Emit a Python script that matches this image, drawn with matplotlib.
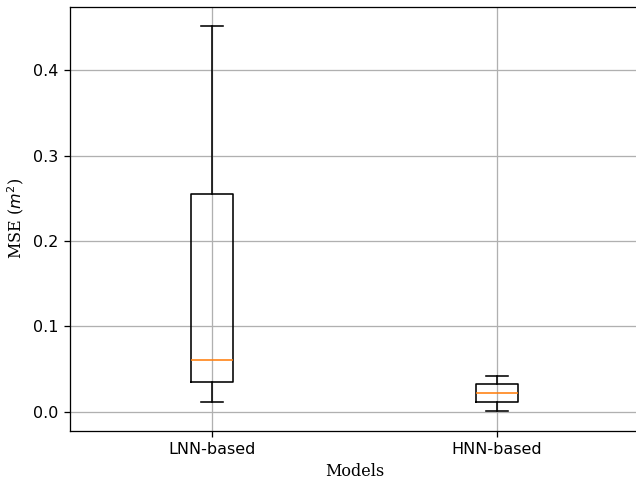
import matplotlib
matplotlib.use("Agg")
import matplotlib.pyplot as plt

labels = ["LNN-based", "HNN-based"]
whislo = [0.0112, 0.0007]
q1 = [0.0354, 0.0112]
med = [0.0603, 0.0222]
q3 = [0.2554, 0.0322]
whishi = [0.4513, 0.0420]

stats = []
for i in range(len(labels)):
    stats.append(dict(label=labels[i], whislo=whislo[i], q1=q1[i], med=med[i],
                      q3=q3[i], whishi=whishi[i], fliers=[]))

DPI = 115
W, H = 636, 479
fig = plt.figure(figsize=(W / DPI, H / DPI), dpi=DPI)
left, right = 69.5 / W, 639.5 / W
top, bottom = 1 - 7 / H, 1 - 430.5 / H
ax = fig.add_axes([left, bottom, right - left, top - bottom])
ax.bxp(stats)
ax.grid(True)
ax.set_axisbelow(True)
ax.set_xlabel("Models", family="DejaVu Serif")
ax.set_ylabel("MSE ($m^2$)", family="DejaVu Serif")
fig.savefig("out.png", dpi=DPI)
